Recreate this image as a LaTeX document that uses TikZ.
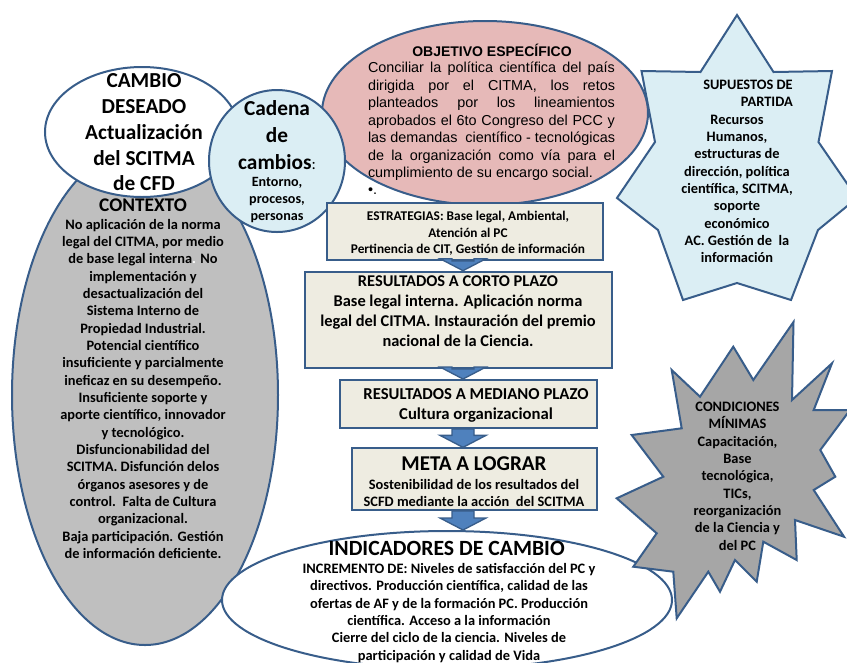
\documentclass[tikz,border=0pt]{standalone}
\usepackage{fontspec}
\setmainfont{Carlito}
\newfontfamily\arialf{Liberation Sans}
\usetikzlibrary{shapes.geometric,calc}
\definecolor{edge}{HTML}{385D8A}
\definecolor{grayA}{HTML}{BFBFBF}
\definecolor{grayB}{HTML}{A6A6A6}
\definecolor{lblue}{HTML}{DBEEF4}
\definecolor{pinkA}{HTML}{E6B9B8}
\definecolor{beige}{HTML}{EEECE1}
\definecolor{arrowblue}{HTML}{4F81BD}
\newcommand\jline[1]{\hbox to \hsize{\spaceskip=.25em plus 1fil minus .05em\relax #1}}
\newcommand\blockarr[2]{\draw[barrow] ($(ax |- #1.south)+(-11,0)$) -- ($(ax |- #2.north)+(-11,-12)$) -- ($(ax |- #2.north)+(-23,-12)$) -- (ax |- #2.north) -- ($(ax |- #2.north)+(23,-12)$) -- ($(ax |- #2.north)+(11,-12)$) -- ($(ax |- #1.south)+(11,0)$) -- cycle;}
\begin{document}
\begin{tikzpicture}[x=0.75pt,y=-0.75pt,
 shp/.style={draw=edge,line width=1.5pt,line join=miter},
 oval/.style={shp,ellipse,inner sep=0},
 boxn/.style={shp,rectangle,fill=beige,inner sep=0},
 txt/.style={align=center,inner sep=0,font={\fontsize{10.8}{13}\selectfont\bfseries}},
 barrow/.style={fill=arrowblue,draw=edge,line width=1pt,line join=miter}]
\useasboundingbox (0,0) rectangle (847,662);
\fill[white] (0,0) rectangle (847,662);
\clip (0,0) rectangle (847,662);
% shapes
\node[oval,fill=grayA,minimum width=199.5pt,minimum height=375pt] (ctx) at (145,395) {};
\node[oval,fill=white,minimum width=145.5pt,minimum height=97.5pt] (cambio) at (142,132) {};
\node[oval,fill=pinkA,minimum width=244.5pt,minimum height=138pt] (obj) at (485,113) {};
\node[oval,fill=lblue,minimum width=102pt,minimum height=106.5pt] (cad) at (277,161) {};
\draw[shp,fill=lblue] (737,15) -- (773.5,72) -- (832,71) -- (818.5,142) -- (857,198) -- (818,230) -- (791,300) -- (737,283) -- (683,300) -- (658,230) -- (617,198) -- (655,142) -- (641.5,71) -- (700.5,72) -- cycle;
\node[boxn,minimum width=207pt,minimum height=42.75pt] (estr) at (465,231.5) {};
\node[boxn,minimum width=230pt,minimum height=72.2pt] (corto) at (458.3,319.8) {};
\node[boxn,minimum width=192.5pt,minimum height=36pt] (med) at (468.3,404) {};
\node[boxn,minimum width=183.75pt,minimum height=46.25pt] (meta) at (474.2,479.2) {};
\node[oval,fill=white,minimum width=337.5pt,minimum height=103.5pt] (ind) at (447,600) {};
\draw[shp,fill=grayB] (671.7,370) -- (700,396.7) -- (733.3,346.7) -- (753.3,380) -- (793.5,322) -- (792,400) -- (832,363.3) -- (813.7,410) -- (850,410) -- (820.3,450) -- (835.3,476.7) -- (813.7,490) -- (844,536.7) -- (795,520) -- (796.7,560) -- (763.3,541.7) -- (756.7,581.7) -- (735,560) -- (720,591.7) -- (708.3,571.7) -- (676.7,618.3) -- (673.3,571.7) -- (633.3,566.7) -- (656.7,533.3) -- (616.7,498.3) -- (663.3,476.7) -- (631.7,435) -- (681.7,428.3) -- cycle;
% arrows
\coordinate (ax) at (463,0);
\blockarr{estr}{corto}
\blockarr{corto}{med}
\blockarr{med}{meta}
\blockarr{meta}{ind}
% texts
\node[txt,font={\fontsize{16}{19.3}\selectfont\bfseries}] (tcambio) at (144,132.5) {CAMBIO\\DESEADO\\Actualización\\del SCITMA\\de CFD};
\node[txt,font={\fontsize{14.5}{17}\selectfont\bfseries}] (tctxh) at (143,205) {CONTEXTO};
\node[txt] (tctx) at (143,388.8) {No aplicación de la norma\\legal del CITMA, por medio\\de base legal interna{\color{white}.} No\\implementación y\\desactualización del\\Sistema Interno de\\Propiedad Industrial.\\Potencial científico\\insuficiente y parcialmente\\ineficaz en su desempeño.\\Insuficiente soporte y\\aporte científico, innovador\\y tecnológico.\\Disfuncionabilidad del\\SCITMA. Disfunción delos\\órganos asesores y de\\control.\ \ Falta de Cultura\\organizacional.\\Baja participación. Gestión\\de información deficiente.};
\node[txt,font={\fontsize{16}{20.2}\selectfont\bfseries}] (tcad) at (277,135) {Cadena\\de\\cambios{\fontsize{12}{12}\selectfont\mdseries:}};
\node[txt,font={\fontsize{10.6}{12.5}\selectfont\bfseries}] (tcad2) at (277,200) {Entorno,\\procesos,\\personas};
\node[inner sep=0,font={\arialf\bfseries\fontsize{10.5}{12}\selectfont}] (tobjh) at (492,50) {OBJETIVO ESPECÍFICO};
\node[inner sep=0] (tobj) at (491.5,128.5) {\vbox{\hsize=185.25pt\arialf\fontsize{10.8}{13.1}\selectfont
\jline{Conciliar la política científica del país}
\jline{dirigida por el CITMA, los retos}
\jline{planteados por los lineamientos}
\jline{aprobados el 6to Congreso del PCC y}
\jline{las demandas\ \ científico - tecnológicas}
\jline{de la organización como vía para el}
\hbox{cumplimiento de su encargo social.}
\hbox{•.}}};
\node[txt,align=right,anchor=east] (tsuph) at (793,93.5) {SUPUESTOS DE\\PARTIDA};
\node[txt] (tsup) at (737,189) {Recursos\\Humanos,\\estructuras de\\dirección, política\\científica, SCITMA,\\soporte\\económico\\AC. Gestión de\ \ la\\información};
\node[txt,font={\fontsize{10}{12.4}\selectfont\bfseries}] (testr) at (468,233.3) {ESTRATEGIAS: Base legal, Ambiental,\\Atención al PC\\Pertinencia de CIT, Gestión de información};
\node[txt,font={\fontsize{12.3}{15}\selectfont\bfseries}] (tcorto) at (458,310.8) {RESULTADOS A CORTO PLAZO\\Base legal interna. Aplicación norma\\legal del CITMA. Instauración del premio\\nacional de la Ciencia.};
\node[txt,font={\fontsize{12.5}{15}\selectfont\bfseries}] (tmed) at (476,405) {RESULTADOS A MEDIANO PLAZO\\Cultura organizacional};
\node[txt,font={\fontsize{15.8}{18}\selectfont\bfseries}] (tmetah) at (474,463.3) {META A LOGRAR};
\node[txt,font={\fontsize{10.8}{12.5}\selectfont\bfseries}] (tmeta) at (474,493.3) {Sostenibilidad de los resultados del\\SCFD mediante la acción\ \ del SCITMA};
\node[txt,font={\fontsize{16.3}{18}\selectfont\bfseries}] (tindh) at (446.7,548.3) {INDICADORES DE CAMBIO};
\node[txt] (tind) at (449,613) {INCREMENTO DE: Niveles de satisfacción del PC y\\directivos. Producción científica, calidad de las\\ofertas de AF y de la formación PC. Producción\\científica. Acceso a la información\\Cierre del ciclo de la ciencia. Niveles de\\participación y calidad de Vida};
\node[txt] (tcond) at (737.5,476.3) {CONDICIONES\\MÍNIMAS\\Capacitación,\\Base\\tecnológica,\\TICs,\\reorganización\\de la Ciencia y\\del PC};
\end{tikzpicture}
\end{document}
